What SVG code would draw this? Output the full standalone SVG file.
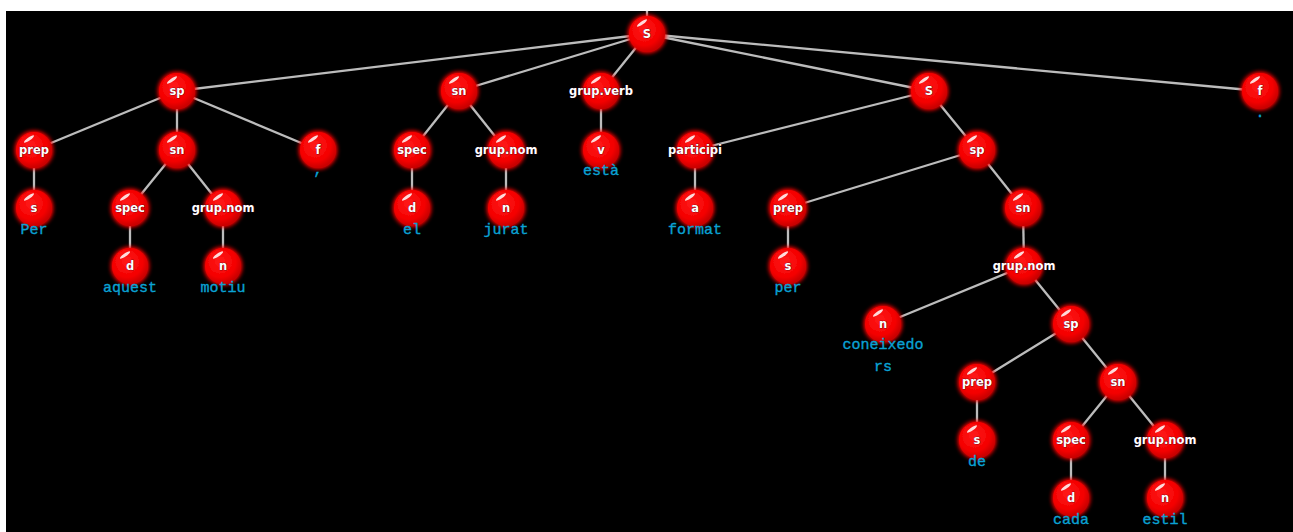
<svg xmlns="http://www.w3.org/2000/svg" width="1293" height="532" viewBox="0 0 1293 532">
<defs>
<radialGradient id="ball" cx="0.42" cy="0.38" r="0.62">
<stop offset="0" stop-color="#ff1a1a"/>
<stop offset="0.7" stop-color="#f40000"/>
<stop offset="1" stop-color="#c80000"/>
</radialGradient>
<filter id="glow" x="-50%" y="-50%" width="200%" height="200%">
<feGaussianBlur in="SourceAlpha" stdDeviation="2.6" result="b"/>
<feFlood flood-color="#ff0000" flood-opacity="1"/>
<feComposite in2="b" operator="in" result="g"/>
<feMerge><feMergeNode in="g"/><feMergeNode in="g"/><feMergeNode in="SourceGraphic"/></feMerge>
</filter>
<g id="ballshape">
<circle r="18" fill="url(#ball)" filter="url(#glow)"/>
<ellipse cx="-5" cy="-11" rx="6" ry="1.6" fill="#ffffff" opacity="0.85" transform="rotate(-35 -5 -11)"/>
</g>
</defs>
<style>
.lbl{font-family:"DejaVu Sans",Verdana,sans-serif;font-weight:bold;font-size:11.5px;fill:#ffffff;text-anchor:middle;stroke:#300018;stroke-width:0.6px;paint-order:stroke}
.word{font-family:"Liberation Mono","Courier New",monospace;font-size:15px;fill:#0aa2d4;stroke:#0aa2d4;stroke-width:0.35px;text-anchor:middle}
.edge{stroke:#bcbcbc;stroke-width:2.3;fill:none}
</style>
<rect x="0" y="0" width="1293" height="532" fill="#ffffff"/>
<rect x="6" y="11" width="1287" height="521" fill="#000000"/>
<g id="connectors" class="edge">
<line x1="647" y1="11" x2="647" y2="34"/>
<line x1="647" y1="34" x2="177" y2="91"/>
<line x1="647" y1="34" x2="459" y2="91"/>
<line x1="647" y1="34" x2="601" y2="91"/>
<line x1="647" y1="34" x2="929" y2="91"/>
<line x1="647" y1="34" x2="1260" y2="91"/>
<line x1="177" y1="91" x2="34" y2="150"/>
<line x1="177" y1="91" x2="177" y2="150"/>
<line x1="177" y1="91" x2="318" y2="150"/>
<line x1="459" y1="91" x2="412" y2="150"/>
<line x1="459" y1="91" x2="506" y2="150"/>
<line x1="601" y1="91" x2="601" y2="150"/>
<line x1="929" y1="91" x2="695" y2="150"/>
<line x1="929" y1="91" x2="977" y2="150"/>
<line x1="34" y1="150" x2="34" y2="208"/>
<line x1="177" y1="150" x2="130" y2="208"/>
<line x1="177" y1="150" x2="223" y2="208"/>
<line x1="412" y1="150" x2="412" y2="208"/>
<line x1="506" y1="150" x2="506" y2="208"/>
<line x1="695" y1="150" x2="695" y2="208"/>
<line x1="977" y1="150" x2="788" y2="208"/>
<line x1="977" y1="150" x2="1023" y2="208"/>
<line x1="130" y1="208" x2="130" y2="266"/>
<line x1="223" y1="208" x2="223" y2="266"/>
<line x1="788" y1="208" x2="788" y2="266"/>
<line x1="1023" y1="208" x2="1024" y2="266"/>
<line x1="1024" y1="266" x2="883" y2="324"/>
<line x1="1024" y1="266" x2="1071" y2="324"/>
<line x1="1071" y1="324" x2="977" y2="382"/>
<line x1="1071" y1="324" x2="1118" y2="382"/>
<line x1="977" y1="382" x2="977" y2="440"/>
<line x1="1118" y1="382" x2="1071" y2="440"/>
<line x1="1118" y1="382" x2="1165" y2="440"/>
<line x1="1071" y1="440" x2="1071" y2="498"/>
<line x1="1165" y1="440" x2="1165" y2="498"/>
</g>
<g id="n-S0" transform="translate(647,34)"><use href="#ballshape"/><text class="lbl" y="4">S</text></g>
<g id="n-sp1" transform="translate(177,91)"><use href="#ballshape"/><text class="lbl" y="4">sp</text></g>
<g id="n-sn1" transform="translate(459,91)"><use href="#ballshape"/><text class="lbl" y="4">sn</text></g>
<g id="n-gv" transform="translate(601,91)"><use href="#ballshape"/><text class="lbl" y="4">grup.verb</text></g>
<g id="n-S2" transform="translate(929,91)"><use href="#ballshape"/><text class="lbl" y="4">S</text></g>
<g id="n-f2" transform="translate(1260,91)"><use href="#ballshape"/><text class="lbl" y="4">f</text><text class="word" y="26">.</text></g>
<g id="n-prep1" transform="translate(34,150)"><use href="#ballshape"/><text class="lbl" y="4">prep</text></g>
<g id="n-sn2" transform="translate(177,150)"><use href="#ballshape"/><text class="lbl" y="4">sn</text></g>
<g id="n-f1" transform="translate(318,150)"><use href="#ballshape"/><text class="lbl" y="4">f</text><text class="word" y="24">,</text></g>
<g id="n-spec1" transform="translate(412,150)"><use href="#ballshape"/><text class="lbl" y="4">spec</text></g>
<g id="n-gn1" transform="translate(506,150)"><use href="#ballshape"/><text class="lbl" y="4">grup.nom</text></g>
<g id="n-v" transform="translate(601,150)"><use href="#ballshape"/><text class="lbl" y="4">v</text><text class="word" y="25">està</text></g>
<g id="n-participi" transform="translate(695,150)"><use href="#ballshape"/><text class="lbl" y="4">participi</text></g>
<g id="n-sp2" transform="translate(977,150)"><use href="#ballshape"/><text class="lbl" y="4">sp</text></g>
<g id="n-s1" transform="translate(34,208)"><use href="#ballshape"/><text class="lbl" y="4">s</text><text class="word" y="26">Per</text></g>
<g id="n-spec2" transform="translate(130,208)"><use href="#ballshape"/><text class="lbl" y="4">spec</text></g>
<g id="n-gn2" transform="translate(223,208)"><use href="#ballshape"/><text class="lbl" y="4">grup.nom</text></g>
<g id="n-d1" transform="translate(412,208)"><use href="#ballshape"/><text class="lbl" y="4">d</text><text class="word" y="26">el</text></g>
<g id="n-n1" transform="translate(506,208)"><use href="#ballshape"/><text class="lbl" y="4">n</text><text class="word" y="26">jurat</text></g>
<g id="n-a" transform="translate(695,208)"><use href="#ballshape"/><text class="lbl" y="4">a</text><text class="word" y="26">format</text></g>
<g id="n-prep2" transform="translate(788,208)"><use href="#ballshape"/><text class="lbl" y="4">prep</text></g>
<g id="n-sn3" transform="translate(1023,208)"><use href="#ballshape"/><text class="lbl" y="4">sn</text></g>
<g id="n-d2" transform="translate(130,266)"><use href="#ballshape"/><text class="lbl" y="4">d</text><text class="word" y="26">aquest</text></g>
<g id="n-n2" transform="translate(223,266)"><use href="#ballshape"/><text class="lbl" y="4">n</text><text class="word" y="26">motiu</text></g>
<g id="n-s2" transform="translate(788,266)"><use href="#ballshape"/><text class="lbl" y="4">s</text><text class="word" y="26">per</text></g>
<g id="n-gn3" transform="translate(1024,266)"><use href="#ballshape"/><text class="lbl" y="4">grup.nom</text></g>
<g id="n-n3" transform="translate(883,324)"><use href="#ballshape"/><text class="lbl" y="4">n</text><text class="word" y="25">coneixedo</text><text class="word" y="47">rs</text></g>
<g id="n-sp3" transform="translate(1071,324)"><use href="#ballshape"/><text class="lbl" y="4">sp</text></g>
<g id="n-prep3" transform="translate(977,382)"><use href="#ballshape"/><text class="lbl" y="4">prep</text></g>
<g id="n-sn4" transform="translate(1118,382)"><use href="#ballshape"/><text class="lbl" y="4">sn</text></g>
<g id="n-s3" transform="translate(977,440)"><use href="#ballshape"/><text class="lbl" y="4">s</text><text class="word" y="26">de</text></g>
<g id="n-spec3" transform="translate(1071,440)"><use href="#ballshape"/><text class="lbl" y="4">spec</text></g>
<g id="n-gn4" transform="translate(1165,440)"><use href="#ballshape"/><text class="lbl" y="4">grup.nom</text></g>
<g id="n-d3" transform="translate(1071,498)"><use href="#ballshape"/><text class="lbl" y="4">d</text><text class="word" y="26">cada</text></g>
<g id="n-n4" transform="translate(1165,498)"><use href="#ballshape"/><text class="lbl" y="4">n</text><text class="word" y="26">estil</text></g>
</svg>
